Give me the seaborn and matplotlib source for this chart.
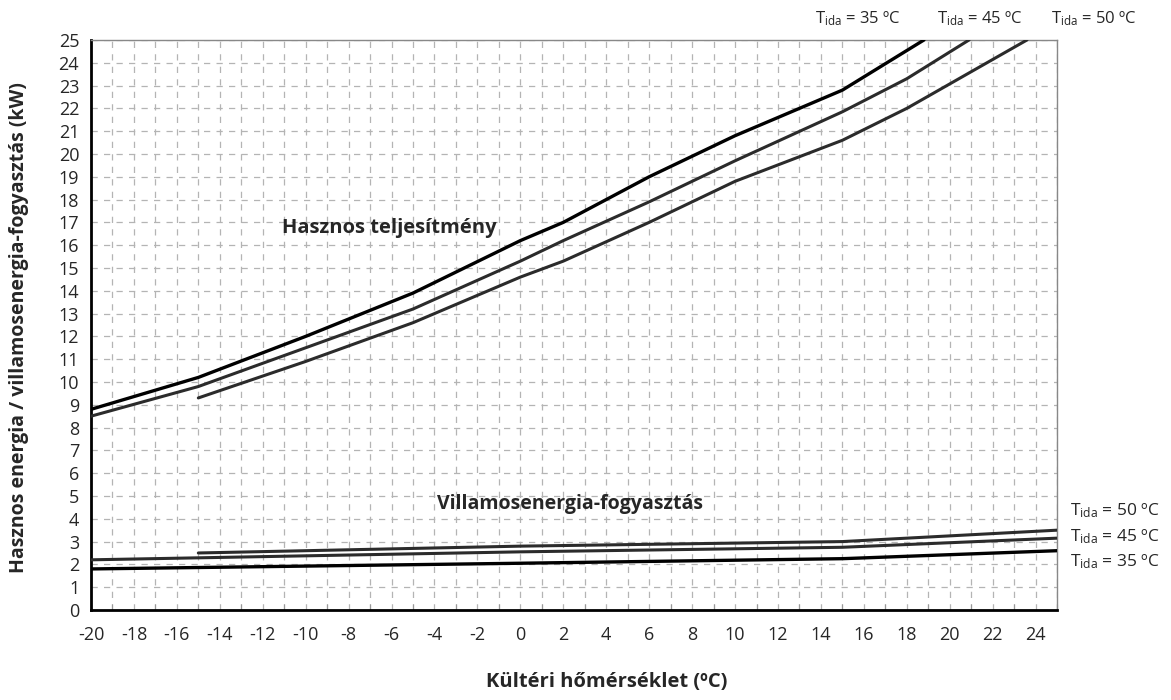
import numpy as np
import pandas as pd
import matplotlib
matplotlib.use('Agg')
import matplotlib.pyplot as plt
import seaborn as sns

# Hasznos teljesítmény (kW) - T_ida görbék
x_h35 = [-20, -15, -10, -5, 0, 2, 6, 10, 15, 18.8]
y_h35 = [8.8, 10.2, 12.0, 13.9, 16.2, 17.0, 19.0, 20.8, 22.8, 25.0]
x_h45 = [-20, -15, -10, -5, 0, 2, 6, 10, 15, 18, 20.9]
y_h45 = [8.5, 9.8, 11.5, 13.2, 15.3, 16.2, 17.9, 19.7, 21.85, 23.3, 25.0]
x_h50 = [-15, -10, -5, 0, 2, 6, 10, 15, 18, 23.6]
y_h50 = [9.3, 10.9, 12.6, 14.6, 15.3, 17.0, 18.8, 20.6, 22.0, 25.0]

# Villamosenergia-fogyasztás (kW)
x_v35 = [-20, 0, 15, 25]
y_v35 = [1.8, 2.05, 2.25, 2.6]
x_v45 = [-20, 0, 15, 25]
y_v45 = [2.2, 2.55, 2.75, 3.15]
x_v50 = [-15, 0, 15, 25]
y_v50 = [2.5, 2.8, 3.0, 3.5]

x_ticks = list(range(-20, 25, 2))
y_ticks = list(range(0, 26))

sns.set_theme(style="white")
plt.rcParams['font.family'] = ['Open Sans', 'DejaVu Sans']
plt.rcParams['mathtext.default'] = 'regular'
plt.rcParams['axes.unicode_minus'] = False

fig = plt.figure(figsize=(11.71, 7.0), dpi=100)
ax = fig.add_axes([0.0777, 0.1286, 0.825, 0.8143])

# szaggatott rács
for v in range(-20, 26):
    ax.axvline(v, color="#b4b4b4", lw=0.9, ls=(0, (5, 5)), zorder=0)
for h in range(0, 26):
    ax.axhline(h, color="#b4b4b4", lw=0.9, ls=(0, (5, 5)), zorder=0)

series = [
    (x_h35, y_h35, "#000000", 2.4),
    (x_h45, y_h45, "#2b2b2b", 2.2),
    (x_h50, y_h50, "#2b2b2b", 2.2),
    (x_v35, y_v35, "#000000", 2.4),
    (x_v45, y_v45, "#2b2b2b", 2.2),
    (x_v50, y_v50, "#2b2b2b", 2.2),
]
for xs, ys, col, lw in series:
    df = pd.DataFrame({"x": xs, "y": ys})
    sns.lineplot(data=df, x="x", y="y", color=col, lw=lw, ax=ax,
                 estimator=None, sort=False, zorder=3)

ax.set_xlim(-20, 25)
ax.set_ylim(0, 25)
ax.set_xticks(x_ticks)
ax.set_xticks(range(-19, 26, 2), minor=True)
ax.set_yticks(y_ticks)
ax.tick_params(axis="both", which="major", direction="inout", length=7,
               width=1.5, color="black", labelsize=13, pad=5)
ax.tick_params(axis="x", which="major", pad=8)
ax.tick_params(axis="x", which="minor", direction="in", length=4,
               width=0.8, color="#999999", bottom=True)

for s in ["left", "bottom"]:
    ax.spines[s].set_color("black")
    ax.spines[s].set_linewidth(2)
for s in ["top", "right"]:
    ax.spines[s].set_color("#888888")
    ax.spines[s].set_linewidth(1)

ax.set_xlabel("Kültéri hőmérséklet (ºC)", fontsize=14.5, fontweight="bold")
ax.set_ylabel("Hasznos energia / villamosenergia-fogyasztás (kW)",
              fontsize=14, fontweight="bold")
ax.xaxis.set_label_coords(0.534, -0.108)
ax.yaxis.set_label_coords(-0.064, 0.495)

ax.text(-11.1, 16.75, "Hasznos teljesítmény", fontsize=14.5,
        fontweight="bold", va="center", ha="left")
ax.text(-3.9, 4.65, "Villamosenergia-fogyasztás", fontsize=14,
        fontweight="bold", va="center", ha="left")

# felirat a görbék végénél
lab = "T$_{ida}$ = %d ºC"
for temp, xp in [(35, 0.733), (45, 0.837), (50, 0.934)]:
    fig.text(xp, 0.974, lab % temp, fontsize=12, ha="center", va="center")
for temp, yv in [(50, 4.35), (45, 3.2), (35, 2.1)]:
    ax.text(25.6, yv, lab % temp, fontsize=12.5, ha="left", va="center",
            clip_on=False)

fig.savefig("out.png", dpi=100, facecolor="white")
plt.close(fig)
